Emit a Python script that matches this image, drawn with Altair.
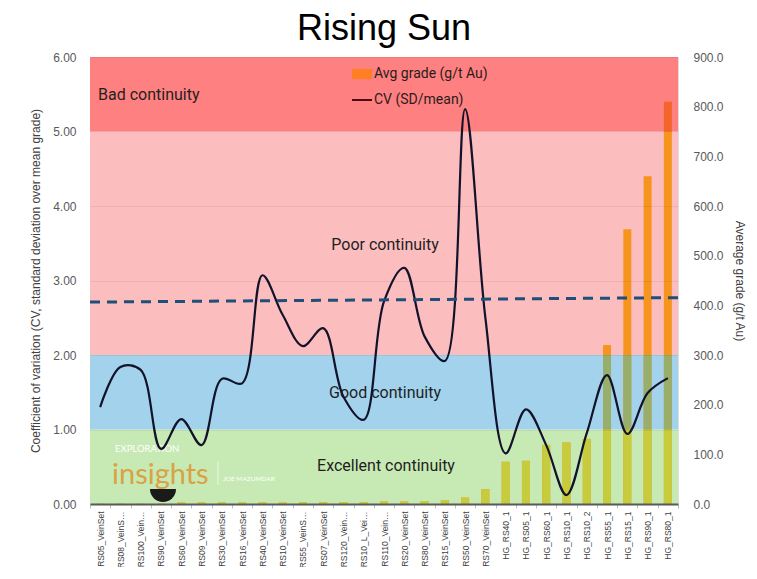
import math
import altair as alt
import pandas as pd

# ---------------- data ----------------
categories = ["RS05_VeinSet", "RS08_VeinS…", "RS100_Vein…", "RS90_VeinSet", "RS60_VeinSet",
              "RS09_VeinSet", "RS30_VeinSet", "RS16_VeinSet", "RS40_VeinSet", "RS10_VeinSet",
              "RS55_VeinS…", "RS07_VeinSet", "RS120_Vein…", "RS10_L_Vei…", "RS110_Vein…",
              "RS20_VeinSet", "RS80_VeinSet", "RS15_VeinSet", "RS50_VeinSet", "RS70_VeinSet",
              "HG_RS40_1", "HG_RS05_1", "HG_RS60_1", "HG_RS10_1", "HG_RS10_2",
              "HG_RS55_1", "HG_RS15_1", "HG_RS90_1", "HG_RS80_1"]
avg_grade = [0.5, 0.5, 0.5, 0.5, 3, 3, 3, 3, 3, 3,
             3.5, 3.5, 4, 4, 5, 5, 6, 8, 13, 30,
             85, 87, 119, 124, 131, 320, 553, 660, 810]
cv = [1.30, 1.84, 1.80, 0.74, 1.14, 0.79, 1.68, 1.62, 3.07, 2.54,
      2.12, 2.36, 1.44, 1.13, 2.72, 3.17, 2.25, 1.92, 5.30, 2.50,
      0.68, 1.27, 0.79, 0.12, 0.95, 1.73, 0.94, 1.49, 1.69]

zone_names = ["Excellent continuity", "Good continuity", "Poor continuity", "Bad continuity"]
zone_lo = [0, 1, 2, 5]
zone_hi = [1, 2, 5, 6]
zone_colors = ["#C7E9B4", "#A2D2EC", "#FBBDBE", "#FF8080"]

trend_start = [2.71]
trend_end = [2.77]

cv_ticks = [0, 1, 2, 3, 4, 5, 6]
grade_ticks = [0, 100, 200, 300, 400, 500, 600, 700, 800, 900]
grade_per_cv = 900 / 6

df = pd.DataFrame({"cat": categories, "grade": avg_grade, "cv": cv})
zones = pd.DataFrame({"zone": zone_names, "lo": zone_lo, "hi": zone_hi})
trend = pd.DataFrame({"t0": trend_start, "t1": trend_end})
one = pd.DataFrame({"k": [0]})

W, H = 588, 447
AX_FONT = "Liberation Sans"
TXT_FONT = "Roboto"


def cv_scale():
    return alt.Scale(domain=[0, 6], nice=False, zero=True)


def grade_scale():
    return alt.Scale(domain=[0, 900], nice=False, zero=True)


def x_enc():
    return alt.X("cat:N", sort=categories,
                 scale=alt.Scale(paddingInner=0, paddingOuter=0),
                 axis=alt.Axis(title=None, labelAngle=-90, labelAlign="right",
                               labelBaseline="middle", labelFont=AX_FONT, labelFontSize=8.5,
                               labelColor="#3f3f3f", labelPadding=3,
                               domainColor="#595959", domainWidth=2, ticks=True,
                               tickBand="extent", tickSize=4, tickColor="#bfbfbf",
                               labelOverlap=False, labelLimit=200, zindex=1))


left_axis = alt.Axis(orient="left", values=cv_ticks, format=".2f",
                     title="Coefficient of variation (CV, standard deviation over mean grade)",
                     labelFont=AX_FONT, labelFontSize=12, labelColor="#595959", labelPadding=14,
                     titleFont=AX_FONT, titleFontSize=12, titleFontWeight="normal",
                     titleColor="#404040", titlePadding=10, ticks=False, domain=False,
                     grid=True, gridColor="#000000", gridOpacity=0.06, zindex=1)
right_axis = alt.Axis(orient="right", values=grade_ticks, format=".1f",
                      title="Average grade (g/t Au)",
                      labelFont=AX_FONT, labelFontSize=12, labelColor="#595959", labelPadding=15,
                      titleFont=AX_FONT, titleFontSize=12, titleFontWeight="normal",
                      titleColor="#404040", titlePadding=9, ticks=False, domain=False, grid=False)

# ---------------- background zones ----------------
bands = alt.Chart(zones).mark_rect().encode(
    x=alt.value(0), x2=alt.value(W),
    y=alt.Y("lo:Q", scale=cv_scale(), axis=left_axis),
    y2="hi:Q",
    color=alt.Color("zone:N", scale=alt.Scale(domain=zone_names, range=zone_colors), legend=None),
)

# ---------------- bars (grade) ----------------
BAR = 8
bar_base = alt.Chart(df).mark_bar(size=BAR, color="#F7941D").encode(
    x=x_enc(), y=alt.Y("grade:Q", scale=grade_scale(), axis=right_axis))
seg_green = alt.Chart(df).transform_calculate(
    g0="0", g1=f"min(datum.grade, {1 * grade_per_cv})"
).mark_bar(size=BAR, color="#C6CC3C").encode(
    x=x_enc(), y=alt.Y("g0:Q", scale=grade_scale(), axis=None), y2="g1:Q")
seg_blue = alt.Chart(df).transform_filter(f"datum.grade > {1 * grade_per_cv}").transform_calculate(
    g0=f"{1 * grade_per_cv}", g1=f"min(datum.grade, {2 * grade_per_cv})"
).mark_bar(size=BAR, color="#98AF6C").encode(
    x=x_enc(), y=alt.Y("g0:Q", scale=grade_scale(), axis=None), y2="g1:Q")
seg_red = alt.Chart(df).transform_filter(f"datum.grade > {5 * grade_per_cv}").transform_calculate(
    g0=f"{5 * grade_per_cv}", g1=f"min(datum.grade, {6 * grade_per_cv})"
).mark_bar(size=BAR, color="#F4652E").encode(
    x=x_enc(), y=alt.Y("g0:Q", scale=grade_scale(), axis=None), y2="g1:Q")


# ---------------- annotations ----------------
def label(text, x, y, size=16, align="center", color="#1f1f1f", font=TXT_FONT, weight="normal",
          baseline="middle"):
    return alt.Chart(one).mark_text(text=text, fontSize=size, align=align, baseline=baseline,
                                    color=color, font=font, fontWeight=weight).encode(
        x=alt.value(x), y=alt.value(y))


zone_labels = [
    label("Bad continuity", 8, 38, align="left"),
    label("Poor continuity", 295, 188),
    label("Good continuity", 295, 336),
    label("Excellent continuity", 296, 409),
]

watermark = [
    label("EXPLORATION", 25, 392, size=9.5, align="left", color="#ffffff", font="Lato"),
    label("insights", 22, 427, size=29, align="left", color="#D9A245", font="Lato",
          weight="normal", baseline="alphabetic"),
    label("JOE MAZUMDAR", 133, 422, size=6.5, align="left", color="#ffffff", font="Lato"),
    alt.Chart(one).mark_rule(color="#ffffff", strokeWidth=0.8, opacity=0.8).encode(
        x=alt.value(128), y=alt.value(405), y2=alt.value(428)),
    alt.Chart(one).mark_arc(radius=13, theta=math.pi / 2, theta2=3 * math.pi / 2,
                            color="#1a1a1a").encode(x=alt.value(73), y=alt.value(432)),
]

cv_line = alt.Chart(df).mark_line(interpolate="catmull-rom", color="#12122a", strokeWidth=2.2).encode(
    x=x_enc(), y=alt.Y("cv:Q", scale=cv_scale(), axis=None))

trend_line = alt.Chart(trend).mark_rule(color="#1F4E79", strokeWidth=3, strokeDash=[10, 7]).encode(
    x=alt.value(0), x2=alt.value(W),
    y=alt.Y("t0:Q", scale=cv_scale(), axis=None), y2="t1:Q")

legend_items = [
    alt.Chart(one).mark_rect(color="#FF7F22").encode(
        x=alt.value(262), x2=alt.value(282), y=alt.value(12), y2=alt.value(22)),
    label("Avg grade (g/t Au)", 284, 17, size=14, align="left", color="#2b1c1c"),
    alt.Chart(one).mark_rule(color="#4a0d12", strokeWidth=2).encode(
        x=alt.value(262), x2=alt.value(282), y=alt.value(43)),
    label("CV (SD/mean)", 284, 43, size=14, align="left", color="#2b1c1c"),
]

chart = alt.layer(
    bands, bar_base, seg_green, seg_blue, seg_red,
    *watermark, *zone_labels, cv_line, trend_line, *legend_items
).resolve_scale(y="independent").properties(
    width=W, height=H,
    title=alt.TitleParams("Rising Sun", fontSize=36, font=AX_FONT, fontWeight="normal",
                          color="#000000", anchor="middle", offset=3),
    autosize=alt.AutoSizeParams(type="none"),
    padding={"left": 82, "top": 49, "right": 71, "bottom": 63},
).configure_view(stroke=None).configure(background="#ffffff")

chart.save("out.html", embed_options={"renderer": "svg", "actions": False})
